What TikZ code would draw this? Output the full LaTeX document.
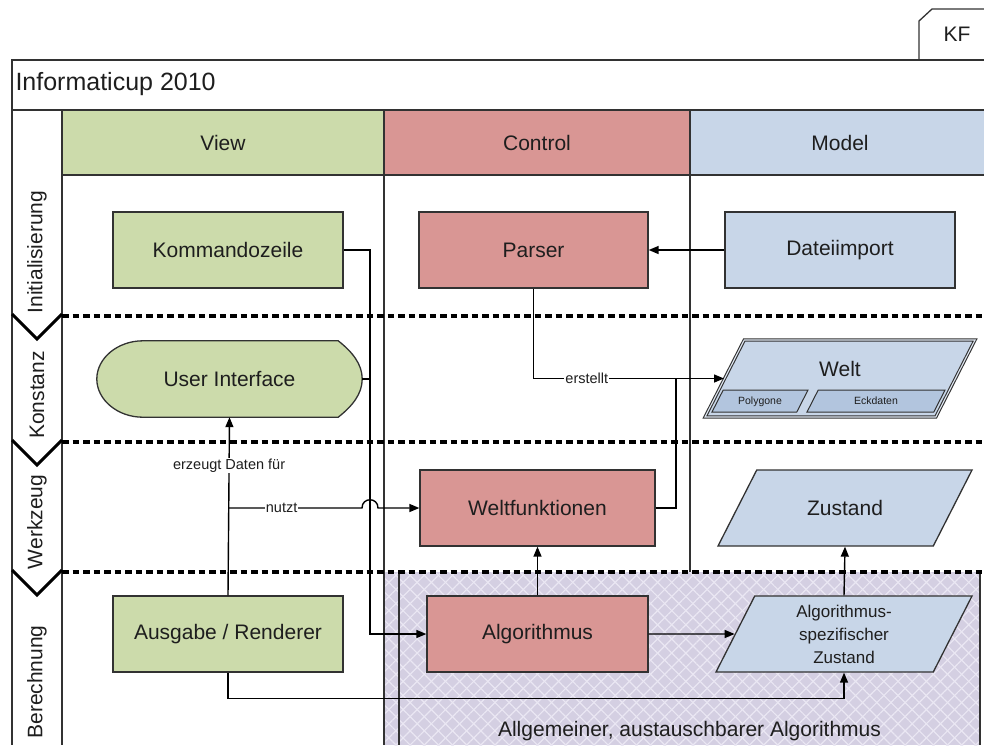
\documentclass[tikz,border=0pt]{standalone}
\usepackage{fontspec}
\setmainfont{Liberation Sans}
\usetikzlibrary{shapes.geometric,arrows.meta,patterns.meta,calc}

\definecolor{viewgreen}{RGB}{204,219,171}
\definecolor{ctrlred}{RGB}{217,150,148}
\definecolor{modelblue}{RGB}{200,214,232}
\definecolor{subblue}{RGB}{178,197,222}
\definecolor{algolilac}{RGB}{212,207,226}
\definecolor{hatchlilac}{RGB}{234,231,243}
\definecolor{edge}{RGB}{50,50,50}
\definecolor{ink}{RGB}{30,30,30}

\begin{document}
\begin{tikzpicture}[x=1pt,y=-1pt,
  every node/.style={font=\fontsize{21}{25}\selectfont, text=ink},
  frame/.style={draw=edge, line width=1.3pt},
  header/.style={draw=edge, line width=1.3pt, inner sep=0pt, minimum height=65pt},
  box/.style={draw=edge, line width=1.3pt, inner sep=0pt, minimum width=230pt, minimum height=76pt},
  viewbox/.style={box, fill=viewgreen},
  ctrlbox/.style={box, fill=ctrlred},
  modelbox/.style={box, fill=modelblue},
  % parallelograms: the slant follows from the text box height, so the
  % text height/depth below fix the full height of each shape
  para/.style={trapezium, trapezium stretches body=true, trapezium left angle=63,
    trapezium right angle=117, draw=edge, line width=1.3pt, fill=modelblue,
    inner sep=1pt, text height=44.5pt, text depth=29.5pt},
  weltpara/.style={para, draw=black!80, line width=1.1pt, double=modelblue!60!white,
    double distance=1.1pt, text height=35.5pt, text depth=39.5pt},
  subpara/.style={para, line width=1pt, fill=subblue, text height=13.8pt, text depth=6.2pt,
    font=\fontsize{10.5}{12}\selectfont},
  lanelabel/.style={rotate=90},
  sep/.style={draw=black, line width=3.6pt, dash pattern=on 6.5pt off 4pt},
  chev/.style={draw=black, line width=3pt, miter limit=10},
  conn/.style={draw=black, line width=1.4pt},
  arr/.style={conn, -{Triangle[length=10pt,width=8pt]}},
  lbl/.style={fill=white, inner sep=1pt, font=\fontsize{14.5}{16}\selectfont}
]
\useasboundingbox (0,0) rectangle (984,745);

% hatched region of the exchangeable algorithm
\fill[algolilac] (384,572) rectangle (980,745);
\fill[pattern={Lines[angle=45,distance=10pt,line width=1.2pt]}, pattern color=hatchlilac]
  (384,572) rectangle (980,745);
\fill[pattern={Lines[angle=-45,distance=10pt,line width=1.2pt]}, pattern color=hatchlilac]
  (384,572) rectangle (980,745);

% outer frame, title row and tab
\draw[frame] (984,60) -- (12,60) -- (12,745);
\draw[frame] (12,110) -- (984,110);
\draw[frame] (919,60) -- (919,21) -- (932,9) -- (984,9);
\node (kf) at (957,34) {KF};
\node[anchor=west, font=\fontsize{25}{29}\selectfont] (title) at (12,84) {Informaticup 2010};

% column headers
\node[header, fill=viewgreen, minimum width=322pt] (hview) at (223,142.5) {View};
\node[header, fill=ctrlred, minimum width=306pt] (hcontrol) at (537,142.5) {Control};
\node[header, fill=modelblue, minimum width=300pt] (hmodel) at (840,142.5) {Model};

% column and lane frame lines
\draw[frame] (62,110) -- (62,745);
\draw[frame] (384,175) -- (384,745);
\draw[frame] (690,175) -- (690,572);
\draw[frame] (399,572) -- (399,745);
\draw[frame] (980,572) -- (980,745);

% lane separators with chevrons
\foreach \y in {316,442,572} {
  \draw[sep] (62,\y) -- (984,\y);
  \draw[chev] (12,{\y-2}) -- (37,{\y+23}) -- (62,{\y-2});
}

% lane labels
\node[lanelabel] (linit) at (37,252) {Initialisierung};
\node[lanelabel] (lkonst) at (37,395) {Konstanz};
\node[lanelabel] (lwerk) at (37,522) {Werkzeug};
\node[lanelabel] (lberech) at (37,682) {Berechnung};

% initialisation lane
\node[viewbox] (kommando) at (228,250) {Kommandozeile};
\node[ctrlbox, minimum width=229pt] (parser) at (533.5,250) {Parser};
\node[modelbox] (import) at (840,250) {Dateiimport};

% constant lane
\node[minimum width=265pt, minimum height=76pt, inner sep=0pt] (ui) at (229.5,379) {};
\draw[draw=edge, line width=1.3pt, fill=viewgreen]
  ($(ui.north west)+(46,0)$) -- ($(ui.north east)+(-24,0)$)
  .. controls ($(ui.north east)+(-10,11)$) and ($(ui.east)+(0,-15)$) .. (ui.east)
  .. controls ($(ui.east)+(0,15)$) and ($(ui.south east)+(-10,-11)$) .. ($(ui.south east)+(-24,0)$)
  -- ($(ui.south west)+(46,0)$)
  .. controls ($(ui.south west)+(21,0)$) and ($(ui.west)+(0,21)$) .. (ui.west)
  .. controls ($(ui.west)+(0,-21)$) and ($(ui.north west)+(21,0)$) .. cycle;
\node (uitext) at (ui.center) {User Interface};

\node[weltpara, minimum width=270pt] (welt) at (840,378.5) {Welt};
\node[subpara, minimum width=96pt] (polygone) at (760,401) {Polygone};
\node[subpara, minimum width=138pt] (eckdaten) at (876,401) {Eckdaten};

% tool lane
\node[ctrlbox, minimum width=235pt] (weltfkt) at (537.5,508) {Weltfunktionen};
\node[para, minimum width=254pt] (zustand) at (845,508) {Zustand};

% computation lane
\node[viewbox] (ausgabe) at (228,634) {Ausgabe / Renderer};
\node[ctrlbox, minimum width=221pt] (algo) at (537.5,634) {Algorithmus};
\node[para, minimum width=256pt, align=center, font=\fontsize{17}{23}\selectfont,
  text height=66pt, text depth=8pt]
  (algsp) at (844,634) {Algorithmus-\\spezifischer\\Zustand};
\node (allg) at (689.5,731) {Allgemeiner, austauschbarer Algorithmus};

% connectors
\coordinate (kbend) at (370,250);
\coordinate (wjoin) at (676,379);
\coordinate (nsplit) at (ausgabe.north |- weltfkt.west);
\coordinate (jumpl) at ($(kbend |- weltfkt.west)+(-8,0)$);
\coordinate (jumpr) at ($(kbend |- weltfkt.west)+(8,0)$);

\draw[arr] (import.west) -- (parser.east);
\draw[arr] (kommando.east) -- (kbend) |- (algo.west);
\draw[conn] (ui.east) -- (ui.east -| kbend);
\draw[arr] (parser.south) |- node[lbl, pos=0.64] {erstellt} (welt.west);
\draw[conn] (weltfkt.east) -| (wjoin);
\draw[arr] (ausgabe.north) -- node[lbl, pos=0.73] {erzeugt Daten für} (ui.south);
\draw[arr] (nsplit) -- node[lbl, pos=0.4] {nutzt} (jumpl)
  .. controls +(0,-11) and +(0,-11) .. (jumpr) -- (weltfkt.west);
\draw[arr] (algo.north) -- (weltfkt.south);
\draw[arr] (algo.east) -- (algsp.west);
\draw[arr] (algsp.north) -- (zustand.south);
\draw[arr] (ausgabe.south) -- ++(0,26) -| (algsp.south);
\end{tikzpicture}
\end{document}
